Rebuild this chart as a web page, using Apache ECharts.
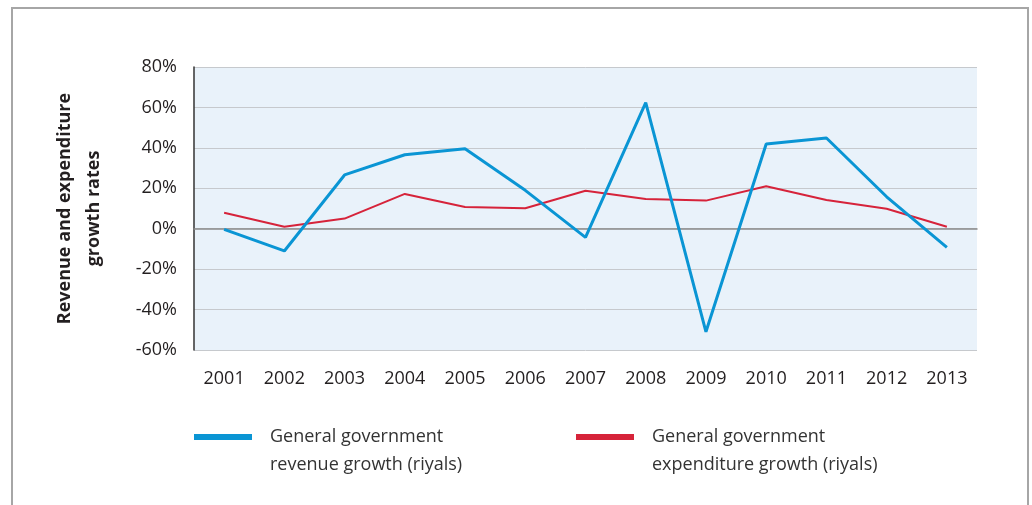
<!DOCTYPE html>
<html>
<head>
<meta charset="utf-8">
<script src="https://cdn.jsdelivr.net/npm/echarts@6/dist/echarts.min.js"></script>
<style>
html,body{margin:0;padding:0;background:#fff;}
#c{width:1032px;height:505px;}
</style>
</head>
<body>
<div id="c"></div>
<script>
var years = ['2001','2002','2003','2004','2005','2006','2007','2008','2009','2010','2011','2012','2013'];
var revenueGrowth = [-0.3, -11, 26.6, 36.6, 39.6, 19, -4.3, 62.4, -51, 41.9, 44.9, 15.8, -9.2];
var expenditureGrowth = [7.9, 1.0, 5.0, 17.2, 10.7, 10.1, 18.8, 14.7, 13.9, 21.0, 14.2, 9.9, 1.0];
var revenueName = 'General government\nrevenue growth (riyals)';
var expenditureName = 'General government\nexpenditure growth (riyals)';
var yTitle = 'Revenue and expenditure\ngrowth rates';

var FONT = '"Open Sans", "DejaVu Sans", sans-serif';
var chart = echarts.init(document.getElementById('c'), null, {renderer: 'canvas'});

// legend swatch drawn at the top of a taller box so it lines up with the first text line
var SWATCH = 'path://M0,0H58V6H0Z M0,33.99H0.01V34H0Z';

function legendFor(name, left) {
  return {
    left: left, top: 418,
    data: [{name: name, icon: SWATCH}],
    itemWidth: 58, itemHeight: 34,
    textStyle: {
      fontFamily: FONT, fontSize: 18, color: '#333', lineHeight: 28,
      padding: [0, 0, 0, 13]
    },
    selectedMode: false
  };
}

chart.setOption({
  animation: false,
  backgroundColor: '#fff',
  graphic: [{
    type: 'rect',
    shape: {x: 12, y: 8, width: 1016, height: 520},
    style: {fill: 'none', stroke: '#a6a6a6', lineWidth: 2},
    silent: true
  }],
  grid: {
    left: 194, right: 55, top: 67, bottom: 155,
    show: true, backgroundColor: '#e9f2fa', borderWidth: 0
  },
  legend: [legendFor(revenueName, 189), legendFor(expenditureName, 571)],
  xAxis: {
    type: 'category',
    data: years,
    boundaryGap: true,
    axisLine: {onZero: true, lineStyle: {color: '#8a8a8a', width: 1.5}},
    axisTick: {show: false},
    axisLabel: {fontFamily: FONT, fontSize: 18, color: '#231f20', margin: 20}
  },
  yAxis: {
    type: 'value',
    min: -60, max: 80, interval: 20,
    name: yTitle,
    nameLocation: 'middle',
    nameGap: 86,
    nameTextStyle: {fontFamily: FONT, fontSize: 18, fontWeight: 'bold', color: '#231f20', lineHeight: 29},
    axisLine: {show: true, lineStyle: {color: '#333', width: 1.5}},
    axisTick: {show: false},
    axisLabel: {fontFamily: FONT, fontSize: 18, color: '#231f20', margin: 17,
      formatter: function (v) { return v + '%'; }},
    splitLine: {show: true, lineStyle: {color: '#c6c9cd', width: 1}}
  },
  series: [{
    name: revenueName,
    type: 'line',
    data: revenueGrowth,
    showSymbol: false,
    symbol: 'none',
    color: '#0a95d4',
    lineStyle: {color: '#0a95d4', width: 3},
    z: 3
  }, {
    name: expenditureName,
    type: 'line',
    data: expenditureGrowth,
    showSymbol: false,
    symbol: 'none',
    color: '#d6233a',
    lineStyle: {color: '#d6233a', width: 2},
    z: 2
  }]
});
</script>
</body>
</html>
